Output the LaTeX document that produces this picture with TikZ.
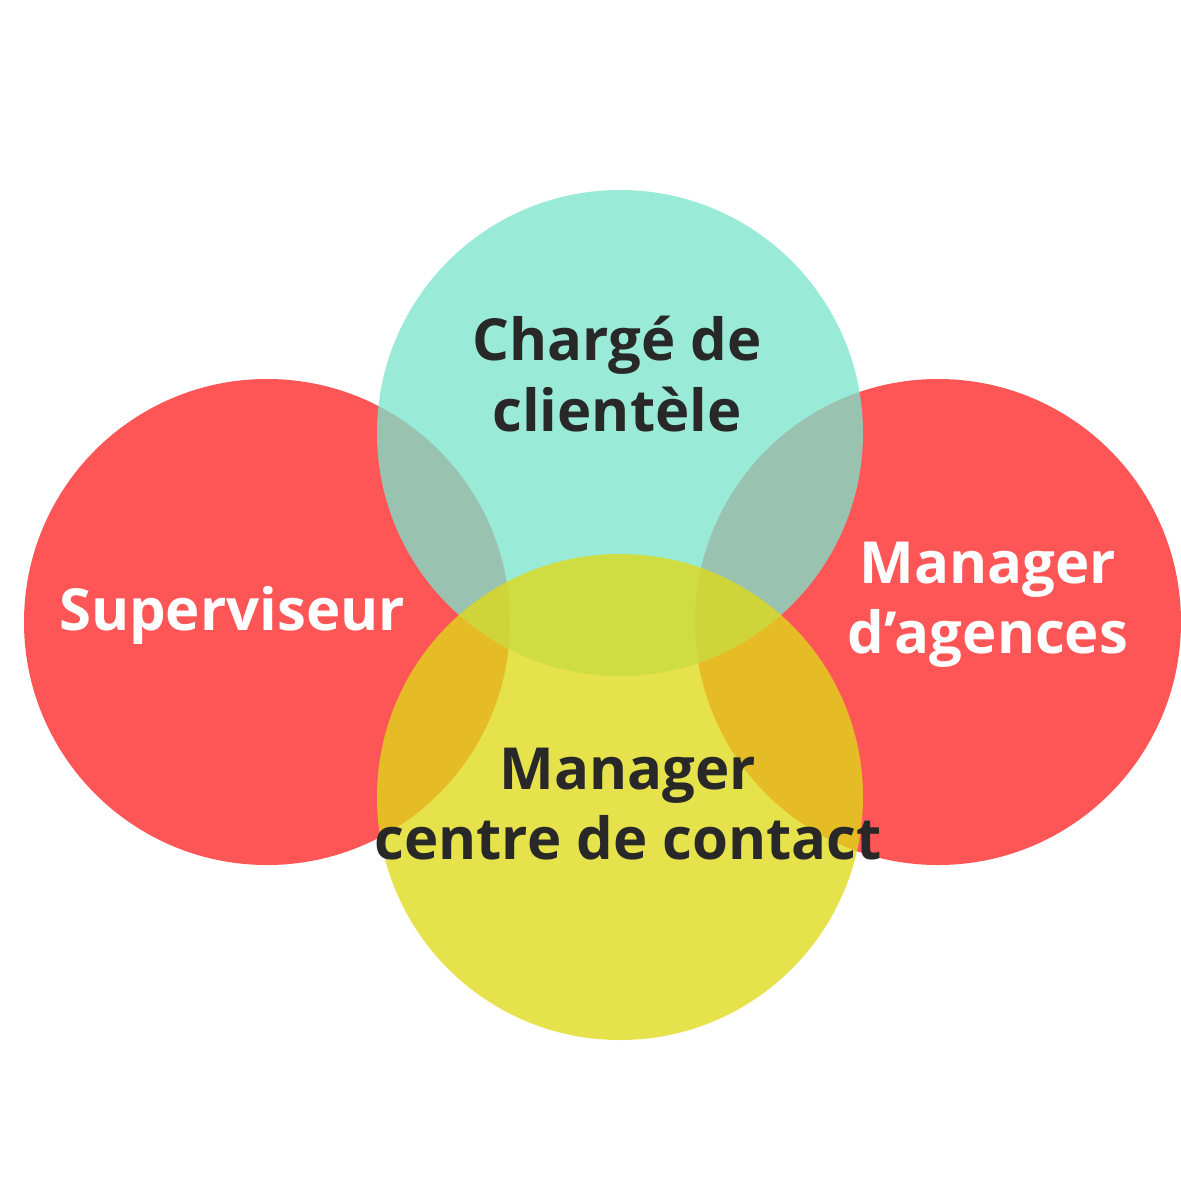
\documentclass[tikz,border=0pt]{standalone}
\usepackage{fontspec}
\setmainfont{Open Sans}
\definecolor{cred}{RGB}{254,86,86}
\definecolor{cteal}{RGB}{123,229,204}
\definecolor{cyel}{RGB}{223,218,25}
\definecolor{ctxt}{RGB}{40,40,40}
\tikzset{lbl/.style={font=\fontsize{16.5}{20}\selectfont\bfseries, align=center, inner sep=0pt}}
\begin{document}
\begin{tikzpicture}[x=0.01cm,y=-0.01cm]
\useasboundingbox (0,0) rectangle (1181,1181);
\fill[white] (0,0) rectangle (1181,1181);
\fill[cred] (267,622) circle (243);
\fill[cred] (938,622) circle (243);
\fill[cteal,opacity=0.77] (620,433) circle (243);
\fill[cyel,opacity=0.776] (620,797) circle (243);
\node[lbl,text=ctxt] (t) at (617,374) {Chargé de\\clientèle};
\node[lbl,text=white] (l) at (232,615) {Superviseur};
\node[lbl,text=white] (r) at (988,605) {Manager\\d’agences};
\node[lbl,text=ctxt] (b) at (628,804) {Manager\\centre de contact};
\end{tikzpicture}
\end{document}
